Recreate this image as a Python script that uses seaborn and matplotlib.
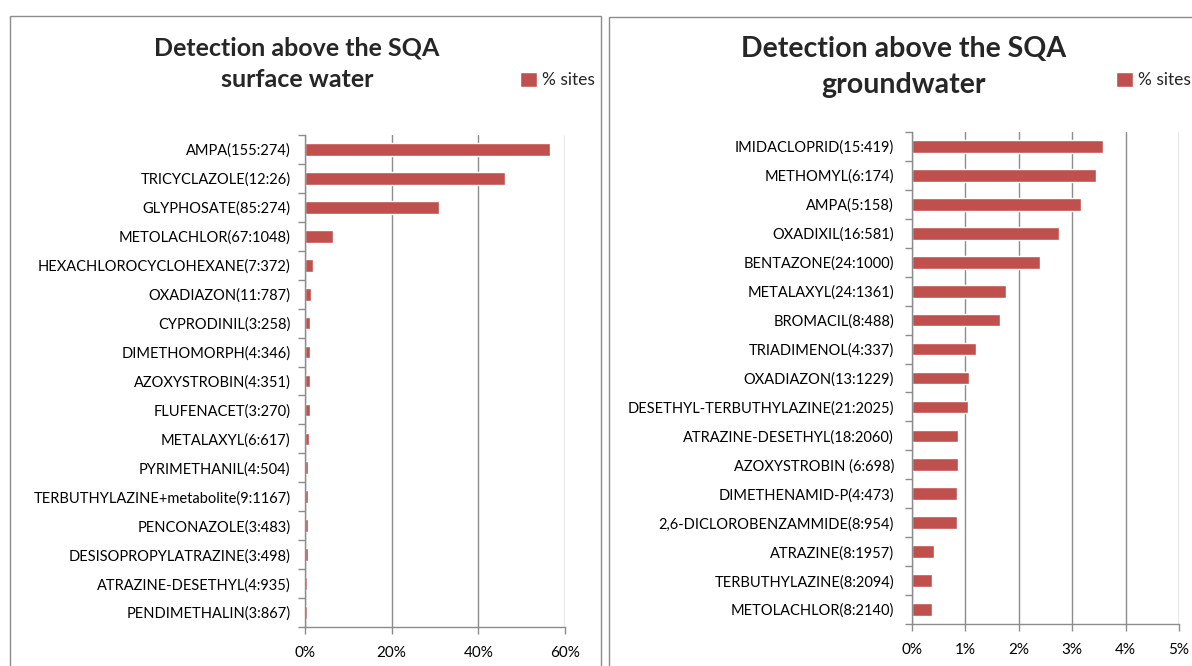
import matplotlib
matplotlib.use("Agg")
import matplotlib.pyplot as plt
import seaborn as sns
import pandas as pd
from matplotlib.patches import Rectangle
from matplotlib.ticker import PercentFormatter, FixedLocator

# --- data (percent of sites above the SQA) ---
sw_labels = ["AMPA(155:274)", "TRICYCLAZOLE(12:26)", "GLYPHOSATE(85:274)",
             "METOLACHLOR(67:1048)", "HEXACHLOROCYCLOHEXANE(7:372)",
             "OXADIAZON(11:787)", "CYPRODINIL(3:258)", "DIMETHOMORPH(4:346)",
             "AZOXYSTROBIN(4:351)", "FLUFENACET(3:270)", "METALAXYL(6:617)",
             "PYRIMETHANIL(4:504)", "TERBUTHYLAZINE+metabolite(9:1167)",
             "PENCONAZOLE(3:483)", "DESISOPROPYLATRAZINE(3:498)",
             "ATRAZINE-DESETHYL(4:935)", "PENDIMETHALIN(3:867)"]
sw_values = [56.6, 46.2, 31.0, 6.4, 1.9, 1.4, 1.16, 1.16, 1.14, 1.11,
             0.97, 0.79, 0.77, 0.62, 0.60, 0.43, 0.35]

gw_labels = ["IMIDACLOPRID(15:419)", "METHOMYL(6:174)", "AMPA(5:158)",
             "OXADIXIL(16:581)", "BENTAZONE(24:1000)", "METALAXYL(24:1361)",
             "BROMACIL(8:488)", "TRIADIMENOL(4:337)", "OXADIAZON(13:1229)",
             "DESETHYL-TERBUTHYLAZINE(21:2025)", "ATRAZINE-DESETHYL(18:2060)",
             "AZOXYSTROBIN (6:698)", "DIMETHENAMID-P(4:473)",
             "2,6-DICLOROBENZAMMIDE(8:954)", "ATRAZINE(8:1957)",
             "TERBUTHYLAZINE(8:2094)", "METOLACHLOR(8:2140)"]
gw_values = [3.58, 3.45, 3.16, 2.75, 2.40, 1.76, 1.64, 1.19, 1.06, 1.04,
             0.87, 0.86, 0.85, 0.84, 0.41, 0.38, 0.37]

sw_ticks = [0, 20, 40, 60]
gw_ticks = [0, 1, 2, 3, 4, 5]

BAR = "#C0504D"
GRID = "#8C8C8C"

sns.set_style("white")
plt.rcParams["font.family"] = ["Lato", "DejaVu Sans"]

W, H = 1192, 666
fig = plt.figure(figsize=(W / 100, H / 100), dpi=100)


def px_axes(x0, y0, x1, y1):
    return fig.add_axes([x0 / W, 1 - y1 / H, (x1 - x0) / W, (y1 - y0) / H])


def panel(ax, labels, values, ticks, pad):
    df = pd.DataFrame({"name": labels, "pct": values})
    sns.barplot(data=df, x="pct", y="name", orient="h", color=BAR,
                width=0.44, ax=ax, label="% sites", saturation=1)
    ax.set_xlim(ticks[0], ticks[-1])
    ax.set_ylim(len(labels) - 0.5, -0.5)
    ax.xaxis.set_major_locator(FixedLocator(ticks))
    ax.xaxis.set_major_formatter(PercentFormatter(decimals=0))
    ax.set_xlabel("")
    ax.set_ylabel("")
    ax.grid(axis="x", color=GRID, lw=1)
    ax.set_axisbelow(True)
    for s in ["top", "right"]:
        ax.spines[s].set_visible(False)
    for s in ["left", "bottom"]:
        ax.spines[s].set_color(GRID)
        ax.spines[s].set_linewidth(1)
    # category boundary ticks like Excel
    ax.yaxis.set_minor_locator(FixedLocator([i - 0.5 for i in range(len(labels) + 1)]))
    ax.tick_params(axis="y", which="major", length=0, pad=pad, labelsize=10.5)
    ax.tick_params(axis="y", which="minor", length=5, color=GRID, width=1, left=True)
    ax.tick_params(axis="x", length=5, color=GRID, width=1, bottom=True,
                   pad=9, labelsize=11)
    for t in ax.get_xticklabels() + ax.get_yticklabels():
        t.set_color("black")


ax1 = px_axes(305, 135, 565, 627)
panel(ax1, sw_labels, sw_values, sw_ticks, pad=10.5)
ax2 = px_axes(912, 132, 1179, 624)
panel(ax2, gw_labels, gw_values, gw_ticks, pad=13)

# panel frames
fig.patches.append(Rectangle((10 / W, -0.05), 591 / W, 1 - 16 / H + 0.05,
                             transform=fig.transFigure, fill=False,
                             edgecolor="#8C8C8C", lw=1))
fig.patches.append(Rectangle((609 / W, -0.05), 600 / W, 1 - 17 / H + 0.05,
                             transform=fig.transFigure, fill=False,
                             edgecolor="#8C8C8C", lw=1))

# titles
fig.text(297 / W, 1 - 64 / H, "Detection above the SQA\nsurface water",
         ha="center", va="center", fontsize=18, fontweight="bold",
         linespacing=1.45)
fig.text(904 / W, 1 - 67 / H, "Detection above the SQA\ngroundwater",
         ha="center", va="center", fontsize=20.5, fontweight="bold",
         linespacing=1.45)

# legends
for ax, x in [(ax1, 520), (ax2, 1116)]:
    ax.legend(loc="center left", bbox_to_anchor=(x / W, 1 - 80 / H),
              bbox_transform=fig.transFigure, frameon=False, fontsize=12.5,
              handlelength=1.0, handleheight=1.0, handletextpad=0.25,
              borderpad=0, borderaxespad=0)

fig.savefig("out.png", dpi=100)
